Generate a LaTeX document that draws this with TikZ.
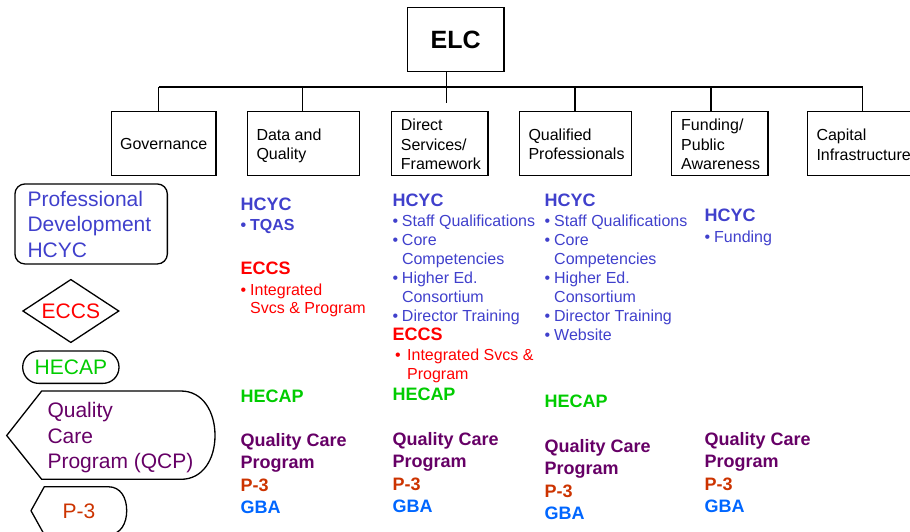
\documentclass[tikz,border=0pt]{standalone}
\usepackage{fontspec}
\setmainfont{Liberation Sans}
\usetikzlibrary{shapes.geometric}
\definecolor{hblue}{RGB}{64,64,204}
\definecolor{eccsred}{RGB}{255,0,0}
\definecolor{hgreen}{RGB}{0,204,0}
\definecolor{qpurple}{RGB}{102,0,102}
\definecolor{porange}{RGB}{204,51,0}
\definecolor{gblue}{RGB}{0,102,255}
\newcommand{\bul}{\makebox[9.5pt][l]{•}}
\newcommand{\ind}{\hspace*{9.5pt}}
\begin{document}
\begin{tikzpicture}[x=1pt,y=-1pt,
  line/.style={line width=1.3pt, black},
  box/.style n args={2}{draw, line width=1.3pt, inner sep=0, anchor=north west,
    minimum width=#1, minimum height=#2, font=\fontsize{16}{19}\selectfont},
  lbl/.style={anchor=base west, inner sep=0, font=\fontsize{16}{19}\selectfont},
  item/.style={anchor=base west, inner sep=0, font=\fontsize{16}{19}\selectfont},
  bitem/.style={anchor=base west, inner sep=0, font=\fontsize{16}{19}\selectfont\bfseries},
  hdr/.style={anchor=base west, inner sep=0, font=\fontsize{18}{22}\selectfont\bfseries},
  leg/.style={anchor=base west, inner sep=0, font=\fontsize{21}{25}\selectfont},
  legc/.style={anchor=base, inner sep=0, font=\fontsize{21}{25}\selectfont}]
\useasboundingbox (0,0) rectangle (910,531);

% ---------- top tree ----------
\node[box={96.6}{64.3}, font=\fontsize{25}{30}\selectfont\bfseries] (elc) at (406.7,6.7) {ELC};
\node[box={104.6}{64}] (gov) at (110.7,111) {Governance};
\node[box={112.3}{64}] (dq) at (246.7,111) {};
\node[box={96.3}{64}] (ds) at (391,111) {};
\node[box={112.3}{64}] (qp) at (518.7,111) {};
\node[box={96.3}{64}] (fp) at (671,111) {};
\node[box={112}{64}] (cap) at (806.7,111) {};

\coordinate (b1) at (158.7,87);
\coordinate (b2) at (302.7,87);
\coordinate (hub) at (446.7,87);
\coordinate (hubend) at (446.7,102.7);
\coordinate (b4) at (575,87);
\coordinate (b5) at (711,87);
\coordinate (b6) at (862.7,87);
\draw[line] (b1) -- (b6);
\draw[line] (elc.south -| hub) -- (hubend);
\draw[line] (b1) -- (b1 |- gov.north);
\draw[line] (b2) -- (b2 |- dq.north);
\draw[line] (b4) -- (b4 |- qp.north);
\draw[line] (b5) -- (b5 |- fp.north);
\draw[line] (b6) -- (b6 |- cap.north);

\foreach \t [count=\i from 0] in {Data and, Quality}
  \node[lbl] (dqt\i) at (256.3,140+19.5*\i) {\t};
\foreach \t [count=\i from 0] in {Direct, Services/, Framework}
  \node[lbl] (dst\i) at (400.7,130.7+19.3*\i) {\t};
\foreach \t [count=\i from 0] in {Qualified, Professionals}
  \node[lbl] (qpt\i) at (528.3,140+19.3*\i) {\t};
\foreach \t [count=\i from 0] in {Funding/, Public, Awareness}
  \node[lbl] (fpt\i) at (681,130.7+19.3*\i) {\t};
\foreach \t [count=\i from 0] in {Capital, Infrastructure}
  \node[lbl] (capt\i) at (816.3,140.7+19.3*\i) {\t};

% ---------- legend ----------
\node[draw, line width=1.3pt, rounded corners=10pt, inner sep=0, anchor=north west,
  minimum width=152.4, minimum height=80] (pdbox) at (14.3,183.3) {};
\foreach \t [count=\i from 0] in {Professional, Development, HCYC}
  \node[leg, text=hblue] (pdt\i) at (27.3,206+25.6*\i) {\t};
\node[diamond, aspect=1.52, draw, line width=1.3pt, inner sep=0, minimum width=96.3, minimum height=63.4,
  text=eccsred, font=\fontsize{21}{25}\selectfont] (legeccs) at (70.85,311) {ECCS};
\node[draw, line width=1.3pt, rounded corners=16pt, inner sep=0, minimum width=96.3,
  minimum height=32.3, text=hgreen, font=\fontsize{21}{25}\selectfont] (leghecap) at (70.85,367.2) {HECAP};
\draw[line] (41.7,391) -- (181,391) .. controls (203,391) and (215,412) .. (215,435.5)
  .. controls (215,459) and (203,479.3) .. (181,479.3) -- (41.7,479.3) -- (6.7,435.5) -- cycle;
\foreach \t [count=\i from 0] in {Quality, Care, Program (QCP)}
  \node[leg, text=qpurple] (qcpt\i) at (47.3,417.3+25.8*\i) {\t};
\draw[line] (44.3,486.7) -- (108,486.7) .. controls (121,486.7) and (126.7,498) .. (126.7,510.7)
  .. controls (126.7,523) and (121,534.7) .. (108,534.7) -- (44.3,534.7) -- (31,510.7) -- cycle;
\node[legc, text=porange] (p3t) at (79,518.3) {P-3};

% ---------- column 1: Data and Quality ----------
\node[hdr, text=hblue] (c1h) at (240.5,210.7) {HCYC};
\node[bitem, text=hblue] (c1tq) at (240.5,230) {\bul TQAS};
\node[hdr, text=eccsred] (c1e) at (240.5,274.3) {ECCS};
\node[item, text=eccsred] (c1e1) at (240.5,295) {\bul Integrated};
\node[item, text=eccsred] (c1e2) at (240.5,313.3) {\ind Svcs \& Program};
\node[hdr, text=hgreen] (c1hec) at (240.5,402) {HECAP};
\node[hdr, text=qpurple] (c1q1) at (240.5,446.7) {Quality Care};
\node[hdr, text=qpurple] (c1q2) at (240.5,468.3) {Program};
\node[hdr, text=porange] (c1p) at (240.5,491.7) {P-3};
\node[hdr, text=gblue] (c1g) at (240.5,513.3) {GBA};

% ---------- column 2: Direct Services ----------
\node[hdr, text=hblue] (c2h) at (392.3,206.7) {HCYC};
\foreach \t [count=\i from 0] in {\bul Staff Qualifications, \bul Core, \ind Competencies,
    \bul Higher Ed., \ind Consortium, \bul Director Training}
  \node[item, text=hblue] (c2i\i) at (392.3,226.7+19*\i) {\t};
\node[hdr, text=eccsred] (c2e) at (392.3,340.7) {ECCS};
\node[item, text=eccsred] (c2e1) at (395,360) {\makebox[12pt][l]{•}Integrated Svcs \&};
\node[item, text=eccsred] (c2e2) at (395,379) {\hspace*{12pt}Program};
\node[hdr, text=hgreen] (c2hec) at (392.3,400.5) {HECAP};
\node[hdr, text=qpurple] (c2q1) at (392.3,445) {Quality Care};
\node[hdr, text=qpurple] (c2q2) at (392.3,467.3) {Program};
\node[hdr, text=porange] (c2p) at (392.3,490) {P-3};
\node[hdr, text=gblue] (c2g) at (392.3,512.7) {GBA};

% ---------- column 3: Qualified Professionals ----------
\node[hdr, text=hblue] (c3h) at (544.5,206.7) {HCYC};
\foreach \t [count=\i from 0] in {\bul Staff Qualifications, \bul Core, \ind Competencies,
    \bul Higher Ed., \ind Consortium, \bul Director Training, \bul Website}
  \node[item, text=hblue] (c3i\i) at (544.5,226.7+19*\i) {\t};
\node[hdr, text=hgreen] (c3hec) at (544.5,407.3) {HECAP};
\node[hdr, text=qpurple] (c3q1) at (544.5,452.7) {Quality Care};
\node[hdr, text=qpurple] (c3q2) at (544.5,474.3) {Program};
\node[hdr, text=porange] (c3p) at (544.5,497.3) {P-3};
\node[hdr, text=gblue] (c3g) at (544.5,519) {GBA};

% ---------- column 4: Funding / Public Awareness ----------
\node[hdr, text=hblue] (c4h) at (704.5,221.7) {HCYC};
\node[item, text=hblue] (c4i) at (704.5,242) {\bul Funding};
\node[hdr, text=qpurple] (c4q1) at (704.5,445.7) {Quality Care};
\node[hdr, text=qpurple] (c4q2) at (704.5,467.7) {Program};
\node[hdr, text=porange] (c4p) at (704.5,490) {P-3};
\node[hdr, text=gblue] (c4g) at (704.5,512.3) {GBA};
\end{tikzpicture}
\end{document}
